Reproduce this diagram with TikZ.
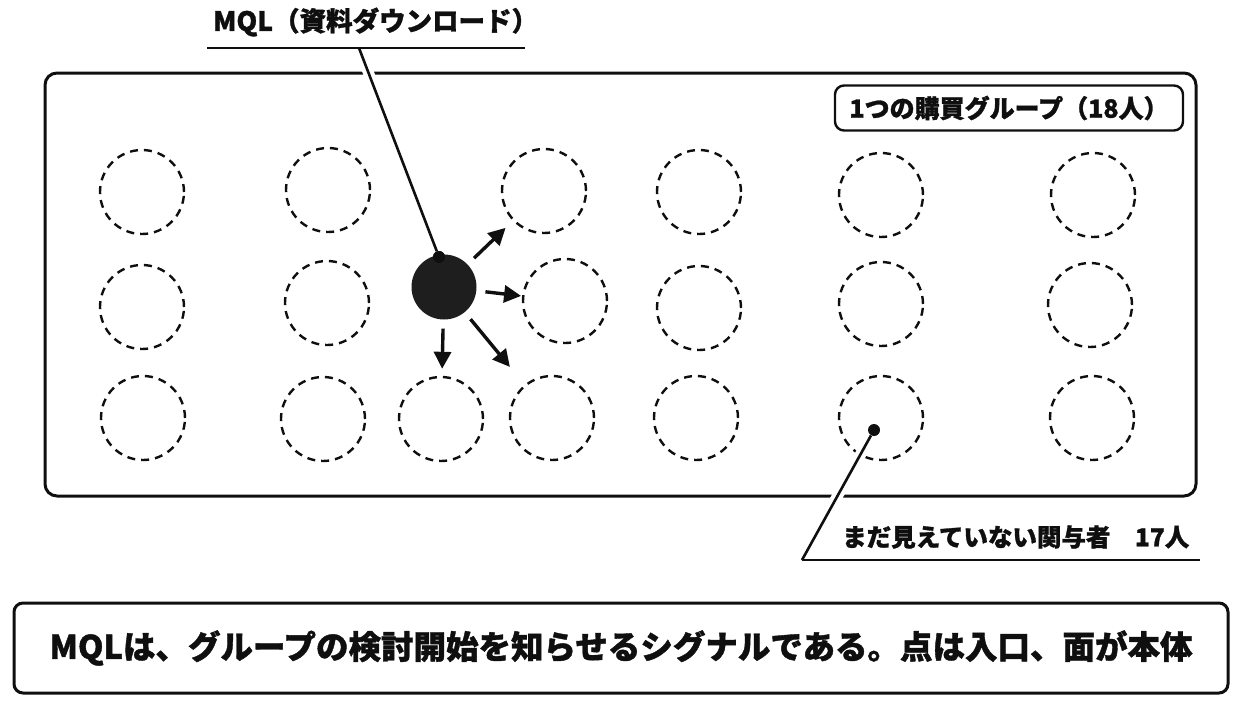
\documentclass[tikz,border=0pt]{standalone}
\usepackage{fontspec}
\setmainfont{Noto Sans CJK JP}[BoldFeatures={FakeBold=1.2}]
\usetikzlibrary{arrows.meta}

\begin{document}
\begin{tikzpicture}[x=1pt, y=-1pt,
	person/.style={circle, draw=ink, dash pattern=on 8pt off 6pt, line width=2.4pt, minimum size=84pt, inner sep=0pt},
	spread/.style={draw=ink, line width=3.4pt, -{Triangle[length=17pt,width=17pt]}, shorten <=9pt},
	leader/.style={draw=ink, line width=2.6pt, preaction={draw=white, line width=11pt}},
	pin/.style={circle, fill=ink, minimum size=12pt, inner sep=0pt},
	tag/.style={font=\bfseries, text=ink, inner sep=0pt}]

	\definecolor{ink}{RGB}{15,15,15}
	\definecolor{mqlfill}{RGB}{30,30,30}

	\useasboundingbox (0,0) rectangle (1240,707);

	%% Draw group frame
	\draw[draw=ink, line width=3pt, rounded corners=12pt] (45,73) rectangle (1196,496);

	%% Draw people of the buying group
	\node[person] (a1) at (142,192) {};
	\node[person] (a2) at (328,190) {};
	\node[person] (a3) at (544,191) {};
	\node[person] (a4) at (699,192) {};
	\node[person] (a5) at (881,195) {};
	\node[person] (a6) at (1093,195) {};
	\node[person] (b1) at (142,307) {};
	\node[person] (b2) at (327,303) {};
	\node[person] (b3) at (565,301) {};
	\node[person] (b4) at (699,308) {};
	\node[person] (b5) at (881,304) {};
	\node[person] (b6) at (1090,305) {};
	\node[person] (c1) at (143,418) {};
	\node[person] (c2) at (323,419) {};
	\node[person] (c3) at (441,419) {};
	\node[person] (c4) at (552,418) {};
	\node[person] (c5) at (696,418) {};
	\node[person] (c6) at (881,418) {};
	\node[person] (c7) at (1092,418) {};

	%% Draw leader lines
	\coordinate (mqlfoot) at (359,48);
	\coordinate (unseenfoot) at (802,560);
	\node[pin] (mqldot) at (439,257) {};
	\node[pin] (unseendot) at (874,430) {};
	\draw[leader] (mqlfoot) -- (mqldot);
	\draw[leader] (unseenfoot) -- (unseendot);

	%% Draw MQL and its arrows
	\node[circle, fill=mqlfill, minimum size=65pt, inner sep=0pt] (mql) at (444,287) {};
	\node[pin] at (mqldot) {};
	\draw[spread, shorten >=10pt] (mql) -- (a3);
	\draw[spread, shorten >=1pt]  (mql) -- (b3);
	\draw[spread, shorten >=7pt]  (mql) -- (c3);
	\draw[spread, shorten >=23pt] (mql) -- (c4);

	%% Draw labels
	\node[tag, anchor=west, font=\fontsize{26.5}{26.5}\selectfont\bfseries] (mqllabel) at (213,22) {MQL（資料ダウンロード）};
	\draw[draw=ink, line width=2.4pt] (207,48) -- (525,48);

	\node[tag, draw=ink, line width=2.4pt, rounded corners=9pt, minimum width=348pt, minimum height=45pt,
		font=\fontsize{25}{25}\selectfont\bfseries] (grouplabel) at (1009,108) {1つの購買グループ（18人）};

	\node[tag, anchor=west, font=\fontsize{24.5}{24.5}\selectfont\bfseries] (unseenlabel) at (842,537) {まだ見えていない関与者　17人};
	\draw[draw=ink, line width=2.4pt] (unseenfoot) -- ++(398,0);

	%% Draw summary
	\node[tag, draw=ink, line width=3pt, rounded corners=9pt, minimum width=1214pt, minimum height=90pt,
		font=\fontsize{32.5}{32.5}\selectfont\bfseries] (summary) at (621,648) {MQLは、グループの検討開始を知らせるシグナルである。点は入口、面が本体};
\end{tikzpicture}
\end{document}
